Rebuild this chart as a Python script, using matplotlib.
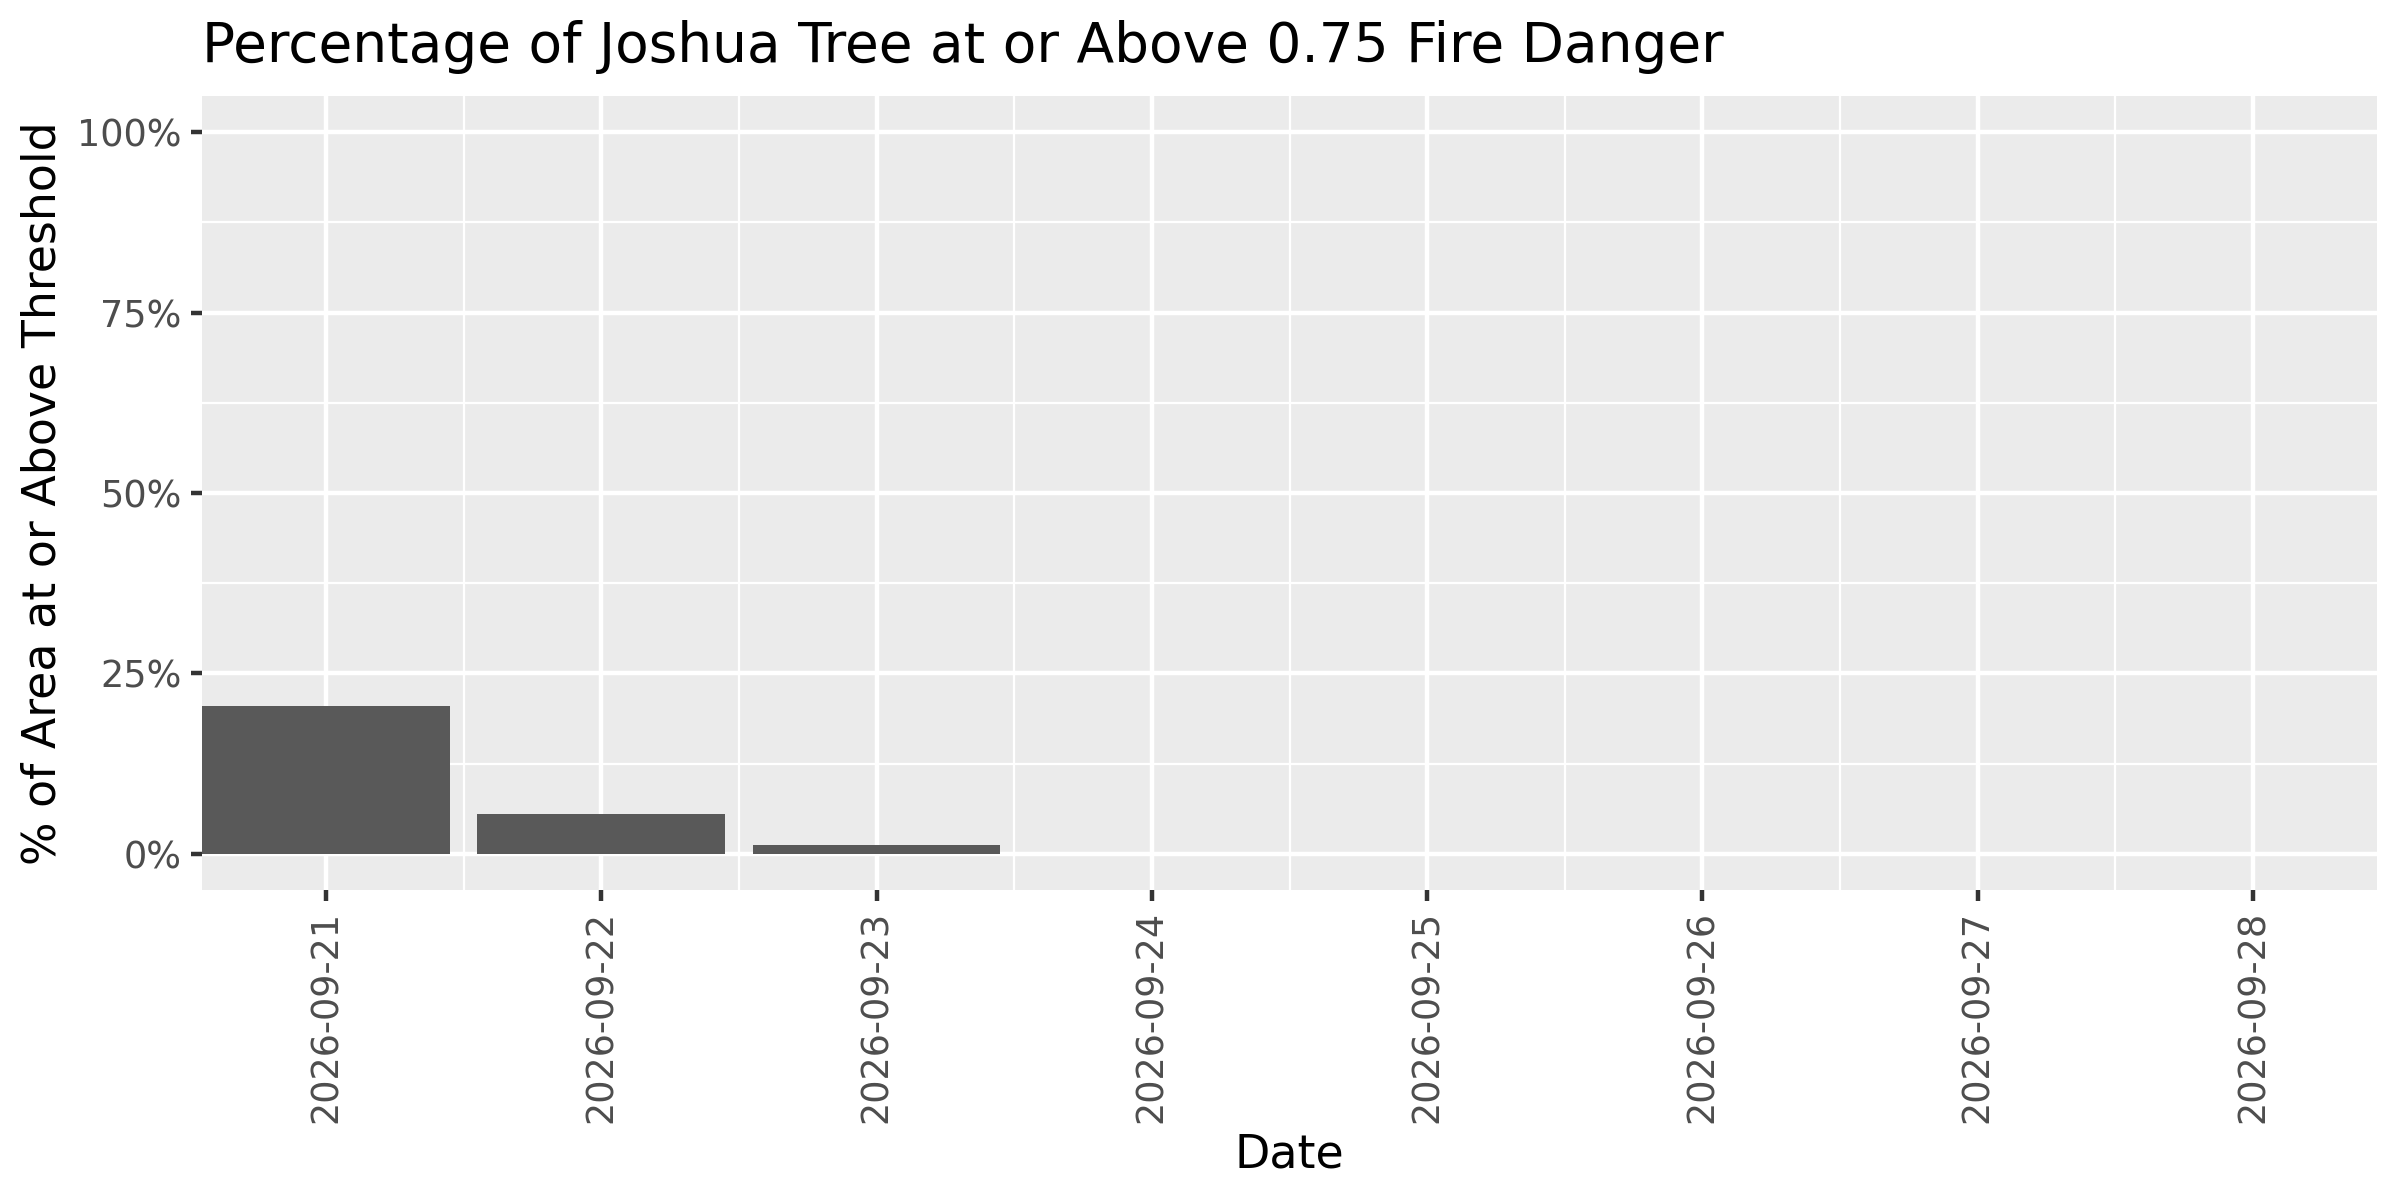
import matplotlib
matplotlib.use("Agg")
import matplotlib.pyplot as plt
from matplotlib.ticker import FixedLocator, FuncFormatter

dates = ["2026-09-21", "2026-09-22", "2026-09-23", "2026-09-24",
         "2026-09-25", "2026-09-26", "2026-09-27", "2026-09-28"]
pct_values = [20.5, 5.5, 1.2, 0, 0, 0, 0, 0]
y_ticks = [0, 25, 50, 75, 100]
y_minor = [12.5, 37.5, 62.5, 87.5]

plt.rcParams['font.family'] = ['DejaVu Sans']

fig = plt.figure(figsize=(8, 4), dpi=300)
ax = fig.add_axes([202/2400, 1 - 890/1200, (2377 - 202)/2400, (890 - 96)/1200])
ax.set_facecolor("#EBEBEB")

x = list(range(1, len(dates) + 1))
ax.bar(x, pct_values, width=0.9, color="#595959", zorder=3)

ax.set_xlim(0.55, len(dates) + 0.45)
ax.set_ylim(-5, 105)

ax.xaxis.set_major_locator(FixedLocator(x))
ax.set_xticklabels(dates, rotation=90, fontsize=8.8, color="#4D4D4D")
ax.xaxis.set_minor_locator(FixedLocator([i + 0.5 for i in x[:-1]]))
ax.yaxis.set_major_locator(FixedLocator(y_ticks))
ax.yaxis.set_major_formatter(FuncFormatter(lambda v, p: f"{int(v)}%"))
ax.yaxis.set_minor_locator(FixedLocator(y_minor))
for lab in ax.get_yticklabels():
    lab.set_fontsize(8.8)
    lab.set_color("#4D4D4D")

ax.grid(which="major", color="white", linewidth=1.07, zorder=1)
ax.grid(which="minor", color="white", linewidth=0.53, zorder=1)
ax.set_axisbelow(True)

ax.tick_params(which="major", length=2.75, width=1.07, color="#333333", pad=2.2)
ax.tick_params(which="minor", length=0)
for s in ax.spines.values():
    s.set_visible(False)

ax.set_xlabel("Date", fontsize=11, labelpad=2.2)
ax.set_ylabel("% of Area at or Above Threshold", fontsize=11, labelpad=2.75)
fig.text(202/2400, 1 - 62/1200, "Percentage of Joshua Tree at or Above 0.75 Fire Danger",
         fontsize=13.2, ha="left", va="baseline")

fig.savefig("out.png", dpi=300)
